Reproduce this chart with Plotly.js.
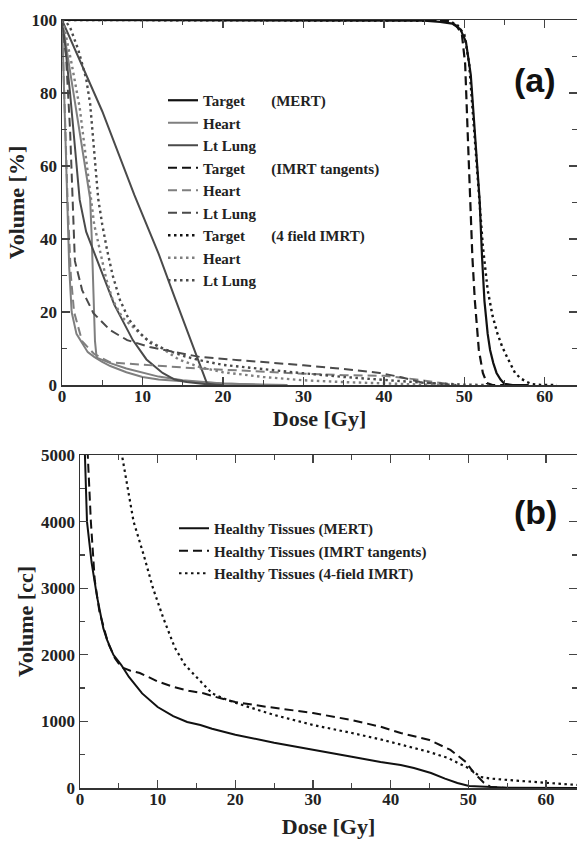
<!DOCTYPE html>
<html>
<head>
<meta charset="utf-8">
<script src="https://cdn.plot.ly/plotly-3.0.1.min.js"></script>
<style>html,body{margin:0;padding:0;background:#fff;}#chart{width:577px;height:843px;}</style>
</head>
<body>
<div id="chart"></div>
<script>
// ---------- Panel (a): DVH, Volume [%] vs Dose [Gy] ----------
const tgtMertDose = [0, 40, 45, 47, 48.5, 49.5, 50.2, 50.8, 51.3, 51.9, 52.2, 52.5, 52.9, 53.2, 53.6, 54, 54.5, 55, 56, 58];
const tgtMertVol  = [100, 100, 99.8, 99.5, 99, 97.5, 94, 85, 70, 50.7, 35, 23, 14, 9.6, 6, 3.3, 1.5, 0.3, 0, 0];

const heartMertDose = [0, 0.2, 0.4, 0.6, 0.9, 1.2, 1.8, 2.5, 3.2, 4, 5, 6, 8, 10, 12, 15, 18, 20, 25, 28];
const heartMertVol  = [100, 85, 70, 50.7, 32, 20, 14, 11.5, 9, 7.7, 6.3, 5.2, 3.5, 2.2, 1.5, 1, 0.6, 0.4, 0.1, 0];
const heartMert2Dose = [0, 1, 2, 3, 3.5, 3.7, 3.9, 4.1, 4.3, 5, 6, 8, 10, 12, 15, 18, 20, 25, 28];
const heartMert2Vol  = [100, 86, 72, 58, 51, 40, 25, 12, 7.5, 6.8, 6, 4.5, 3.3, 2.3, 1.3, 0.7, 0.4, 0.1, 0];

const lungMertDose = [0, 0.3, 1, 1.7, 2.2, 3, 4.7, 6.5, 8.8, 10.5, 12.5, 14, 15.5, 18, 20];
const lungMertVol  = [100, 95, 80, 62, 50.7, 42, 32, 22, 12.3, 7, 3.3, 1.5, 0.8, 0.2, 0];
const lungMert2Dose = [0, 2, 5, 9, 12, 14, 16, 17, 18, 19];
const lungMert2Vol  = [100, 90, 75, 52, 36, 24, 12, 6, 0.5, 0];

const tgtTanDose = [0, 40, 46, 48, 49, 49.7, 50.1, 50.4, 50.7, 51, 51.3, 51.6, 51.8, 52.3, 52.8, 53.5, 56];
const tgtTanVol  = [100, 100, 100, 99.7, 98.5, 96, 88, 70, 50.7, 35, 23.3, 14, 9.6, 3.3, 0.5, 0, 0];

const heartTanDose = [0, 0.3, 0.7, 1.1, 1.5, 2.5, 4, 6, 10, 15, 20, 25, 30, 35, 40, 43, 46, 48, 49];
const heartTanVol  = [100, 80, 50, 30, 20, 12, 8.5, 6.2, 5.5, 4.8, 4.2, 3.6, 3.1, 2.7, 2.5, 1.8, 0.8, 0.2, 0];

const lungTanDose = [0, 0.5, 1, 1.3, 1.6, 2.5, 3.9, 6, 8.1, 10.9, 14, 17.1, 22, 27, 30, 34, 37, 39.5, 42, 44.5, 47, 49];
const lungTanVol  = [100, 90, 70, 50, 34, 26, 19.7, 15, 12.3, 10.4, 9, 7.7, 6.8, 6, 5.4, 4.6, 4, 3.3, 2.2, 0.8, 0.3, 0];

const tgt4fDose = [0, 45, 47.5, 49, 50, 50.6, 51.2, 51.8, 52.3, 52.9, 53.5, 54.1, 54.7, 55.3, 55.8, 56.3, 57, 57.8, 58.5, 59.5, 61.5];
const tgt4fVol  = [100, 100, 99.8, 99, 96, 88, 70, 50.7, 38, 26, 19, 14.2, 10.5, 7.7, 5.3, 3.3, 1.8, 0.8, 0.2, 0, 0];

const heart4fDose = [0, 0.3, 0.6, 1.2, 2.2, 3, 3.5, 4, 4.7, 5.5, 6.3, 7.5, 8.8, 10.5, 12.2, 14.5, 17.1, 20, 25, 30, 35, 40, 45, 48];
const heart4fVol  = [100, 98, 94.5, 88, 76, 62, 52, 44, 37, 29, 23.3, 18.5, 15.9, 12.5, 10.4, 7, 4.9, 3.5, 2.2, 1.3, 0.8, 0.4, 0.1, 0];

const lung4fDose = [0, 0.5, 1, 2, 3, 3.5, 4, 4.5, 5, 5.6, 6.3, 7.2, 8.3, 9.7, 11, 13, 15, 17.1, 20, 25, 29.6, 35, 40, 45, 50, 53];
const lung4fVol  = [100, 99.5, 98, 92, 84, 77, 64, 51, 44, 37, 30, 23.3, 18, 14.2, 11.5, 9.6, 8, 6.8, 5.5, 4.3, 3.3, 2.2, 1.3, 0.6, 0.1, 0];

// ---------- Panel (b): Healthy tissues, Volume [cc] vs Dose [Gy] ----------
const htMertDose = [0.5, 0.65, 0.9, 1.5, 2.2, 3, 3.5, 4.3, 5.3, 6.3, 8, 10, 12, 13.8, 15.5, 17, 20, 25, 30, 35, 38.7, 41.3, 43, 45.2, 47, 48.6, 50.1, 52.9, 55, 64];
const htMertVol  = [5500, 5000, 4000, 3380, 2870, 2400, 2220, 2000, 1850, 1667, 1420, 1216, 1080, 991, 946, 890, 800, 680, 570, 470, 390, 345, 300, 225, 140, 75, 30, 15, 5, 0];

const htTanDose = [0.9, 1.0, 1.4, 1.9, 2.5, 3.6, 4.5, 5.3, 6.5, 7.7, 10, 12, 14, 16, 18, 20, 24, 27, 30, 35, 38.7, 41.3, 45, 47.7, 49.7, 50.7, 52, 52.9, 55, 64];
const htTanVol  = [5500, 5000, 4000, 3120, 2650, 2180, 1950, 1817, 1760, 1727, 1600, 1520, 1460, 1420, 1350, 1291, 1220, 1171, 1126, 1020, 920, 826, 721, 571, 390, 230, 80, 15, 0, 0];

const ht4fDose = [5.2, 5.4, 6.0, 6.9, 8.2, 9.4, 10.7, 12.2, 13.5, 15, 17, 19, 20, 25, 30, 35, 38.7, 43, 45, 47.4, 50, 51.6, 53, 55.1, 60.3, 64];
const ht4fVol  = [5500, 5000, 4600, 4000, 3500, 3000, 2560, 2110, 1850, 1667, 1420, 1320, 1280, 1096, 946, 826, 730, 601, 540, 450, 300, 165, 140, 120, 75, 45];

// ---------- labels ----------
const gap = "\u00a0\u00a0\u00a0\u00a0\u00a0\u00a0\u00a0";
const legendA = ["Target" + gap + "(MERT)", "Heart", "Lt Lung",
                 "Target" + gap + "(IMRT tangents)", "Heart", "Lt Lung",
                 "Target" + gap + "(4 field IMRT)", "Heart", "Lt Lung"];
const legendB = ["Healthy Tissues (MERT)", "Healthy Tissues (IMRT tangents)", "Healthy Tissues (4-field IMRT)"];
const xTicksA = [0, 10, 20, 30, 40, 50, 60];
const yTicksA = [0, 20, 40, 60, 80, 100];
const yTicksB = [0, 1000, 2000, 3000, 4000, 5000];

// ---------- styles ----------
const cTarget = "#111111", cHeart = "#7f7f7f", cLung = "#4a4a4a";
const dSolid = "solid", dTan = "9px,5px", dDot = "2.5px,3.5px";
const serif = "'Liberation Serif', 'Times New Roman', serif";

function tr(x, y, name, color, dash, width, group, showlegend, xa, ya, leg) {
  return {x: x, y: y, name: "<b>" + name + "</b>", type: "scatter", mode: "lines",
          line: {color: color, dash: dash, width: width},
          legendgroup: group, showlegend: showlegend,
          xaxis: xa, yaxis: ya, legend: leg, hoverinfo: "skip"};
}

const data = [
  tr(tgtMertDose, tgtMertVol, legendA[0], cTarget, dSolid, 2.2, "g0", true, "x", "y", "legend"),
  tr(heartMertDose, heartMertVol, legendA[1], cHeart, dSolid, 2, "g1", true, "x", "y", "legend"),
  tr(heartMert2Dose, heartMert2Vol, legendA[1], cHeart, dSolid, 2, "g1", false, "x", "y", "legend"),
  tr(lungMertDose, lungMertVol, legendA[2], cLung, dSolid, 2, "g2", true, "x", "y", "legend"),
  tr(lungMert2Dose, lungMert2Vol, legendA[2], cLung, dSolid, 2, "g2", false, "x", "y", "legend"),
  tr(tgtTanDose, tgtTanVol, legendA[3], cTarget, dTan, 2.2, "g3", true, "x", "y", "legend"),
  tr(heartTanDose, heartTanVol, legendA[4], cHeart, dTan, 2, "g4", true, "x", "y", "legend"),
  tr(lungTanDose, lungTanVol, legendA[5], cLung, dTan, 2, "g5", true, "x", "y", "legend"),
  tr(tgt4fDose, tgt4fVol, legendA[6], cTarget, dDot, 2.4, "g6", true, "x", "y", "legend"),
  tr(heart4fDose, heart4fVol, legendA[7], cHeart, dDot, 2.4, "g7", true, "x", "y", "legend"),
  tr(lung4fDose, lung4fVol, legendA[8], cLung, dDot, 2.4, "g8", true, "x", "y", "legend"),
  tr(htMertDose, htMertVol, legendB[0], cTarget, dSolid, 2, "h0", true, "x2", "y2", "legend2"),
  tr(htTanDose, htTanVol, legendB[1], cTarget, dTan, 2, "h1", true, "x2", "y2", "legend2"),
  tr(ht4fDose, ht4fVol, legendB[2], cTarget, dDot, 2.2, "h2", true, "x2", "y2", "legend2")
];

const W = 577, H = 843;
const px = v => v / W, py = v => 1 - v / H;

const tickFont = {family: serif, size: 17, color: "#222", weight: "bold"};
const titleFont = {family: serif, size: 22, color: "#222"};
const minorX = {dtick: 5, tick0: 0, ticks: "inside", ticklen: 5, tickcolor: "#444", tickwidth: 1.2};

function axisCommon(extra) {
  return Object.assign({
    showline: true, linecolor: "#333", linewidth: 1.5, mirror: "ticks",
    ticks: "inside", ticklen: 8, tickwidth: 1.3, tickcolor: "#444",
    showgrid: false, zeroline: false, tickfont: tickFont, automargin: false,
    fixedrange: true
  }, extra);
}

const layout = {
  width: W, height: H,
  margin: {l: 0, r: 0, t: 0, b: 0},
  paper_bgcolor: "#fff", plot_bgcolor: "#fff",
  font: {family: serif, color: "#222"},
  showlegend: true,
  xaxis: axisCommon({
    domain: [px(62), 1], anchor: "y", range: [0, 64],
    tickvals: xTicksA, ticktext: xTicksA.map(String),
    ticklabelstandoff: -5,
    minor: minorX,
    title: {text: "<b>Dose [Gy]</b>", font: titleFont, standoff: 2}
  }),
  yaxis: axisCommon({
    domain: [py(385), py(20)], anchor: "x", range: [0, 100],
    tickvals: yTicksA, ticktext: yTicksA.map(String),
    minor: {dtick: 10, tick0: 0, ticks: "inside", ticklen: 5, tickcolor: "#444", tickwidth: 1.2},
    title: {text: "<b>Volume [%]</b>", font: titleFont, standoff: 1}
  }),
  xaxis2: axisCommon({
    domain: [px(80), 1], anchor: "y2", range: [0, 64],
    tickvals: xTicksA, ticktext: xTicksA.map(String),
    ticklabelstandoff: -5,
    minor: minorX,
    title: {text: "<b>Dose [Gy]</b>", font: titleFont, standoff: 10}
  }),
  yaxis2: axisCommon({
    domain: [py(788), py(455)], anchor: "x2", range: [0, 5000],
    tickvals: yTicksB, ticktext: yTicksB.map(String),
    minor: {dtick: 500, tick0: 0, ticks: "inside", ticklen: 5, tickcolor: "#444", tickwidth: 1.2},
    title: {text: "<b>Volume [cc]</b>", font: titleFont, standoff: 1}
  }),
  legend: {
    x: px(163), y: py(84), xanchor: "left", yanchor: "top",
    bgcolor: "rgba(0,0,0,0)", borderwidth: 0,
    font: {family: serif, size: 15, color: "#222"},
    traceorder: "normal", itemclick: false, itemdoubleclick: false
  },
  legend2: {
    x: px(174), y: py(512), xanchor: "left", yanchor: "top",
    bgcolor: "rgba(0,0,0,0)", borderwidth: 0,
    font: {family: serif, size: 15, color: "#222"},
    traceorder: "normal", itemclick: false, itemdoubleclick: false
  },
  annotations: [
    {text: "<b>(a)</b>", xref: "paper", yref: "paper", x: px(535), y: py(80),
     xanchor: "center", yanchor: "middle", showarrow: false,
     font: {family: "'Liberation Sans', Arial, sans-serif", size: 34, color: "#111"}},
    {text: "<b>(b)</b>", xref: "paper", yref: "paper", x: px(535), y: py(512),
     xanchor: "center", yanchor: "middle", showarrow: false,
     font: {family: "'Liberation Sans', Arial, sans-serif", size: 34, color: "#111"}}
  ]
};

Plotly.newPlot("chart", data, layout, {staticPlot: true, displayModeBar: false});
</script>
</body>
</html>
